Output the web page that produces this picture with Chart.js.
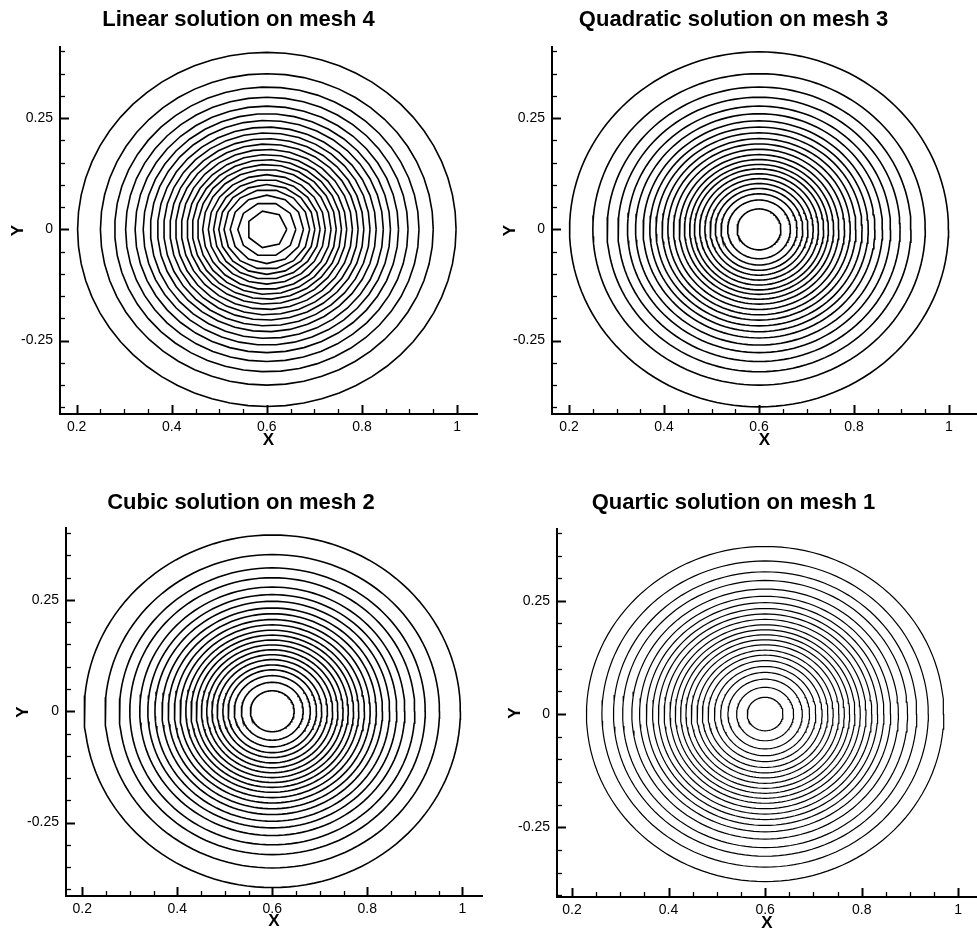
<!DOCTYPE html>
<html>
<head>
<meta charset="utf-8">
<title>Contour solutions</title>
<script src="https://cdn.jsdelivr.net/npm/chart.js@4.4.1/dist/chart.umd.min.js"></script>
<style>
  html, body { margin: 0; padding: 0; background: #fff; overflow: hidden; }
  #page { position: relative; width: 977px; height: 928px; overflow: hidden; background: #fff; }
  #page canvas { position: absolute; }
</style>
</head>
<body>
<div id="page">
  <canvas id="panel1" width="524" height="464" style="left:0px;top:0px"></canvas>
  <canvas id="panel2" width="543" height="464" style="left:490px;top:0px"></canvas>
  <canvas id="panel3" width="528" height="480" style="left:0px;top:464px"></canvas>
  <canvas id="panel4" width="558" height="480" style="left:490px;top:464px"></canvas>
</div>
<script>
// contour centre and the contour radii (data units)
const centreX = 0.6;
const centreY = 0;

const titles = [
    'Linear solution on mesh 4',
    'Quadratic solution on mesh 3',
    'Cubic solution on mesh 2',
    'Quartic solution on mesh 1'
];

const radiiLinear = [0.398, 0.350, 0.320, 0.297, 0.277, 0.260, 0.245, 0.230, 0.217, 0.204, 0.192, 0.180,
    0.168, 0.157, 0.146, 0.135, 0.123, 0.112, 0.101, 0.090, 0.077, 0.061, 0.042];
const radiiQuadratic = [0.399, 0.350, 0.320, 0.297, 0.277, 0.260, 0.244, 0.230, 0.217, 0.204, 0.192, 0.180,
    0.168, 0.157, 0.146, 0.136, 0.125, 0.114, 0.103, 0.092, 0.080, 0.066, 0.046];
const radiiCubic = [0.396, 0.352, 0.322, 0.300, 0.279, 0.262, 0.247, 0.232, 0.219, 0.206, 0.194, 0.182,
    0.171, 0.160, 0.149, 0.138, 0.127, 0.116, 0.104, 0.093, 0.080, 0.065, 0.046];
const radiiQuartic = [0.370, 0.338, 0.314, 0.295, 0.276, 0.260, 0.246, 0.233, 0.221, 0.209, 0.197, 0.186,
    0.175, 0.164, 0.153, 0.141, 0.130, 0.118, 0.105, 0.092, 0.077, 0.059, 0.037];

// tick positions (minor every 0.05) and the labelled ones
const xTickValues = [0.2, 0.25, 0.3, 0.35, 0.4, 0.45, 0.5, 0.55, 0.6, 0.65, 0.7, 0.75, 0.8, 0.85, 0.9, 0.95, 1];
const xMajorTicks = [0.2, 0.4, 0.6, 0.8, 1];
const yTickValues = [-0.4, -0.35, -0.3, -0.25, -0.2, -0.15, -0.1, -0.05, 0, 0.05, 0.1, 0.15, 0.2, 0.25, 0.3, 0.35, 0.4];
const yMajorTicks = [-0.25, 0, 0.25];

// per-panel layout: axis ranges and pixel fitting
const panels = [
    { id: 'panel1', radii: radiiLinear, coarse: true, lineWidth: 1.6,
      xMin: 0.165, xMax: 1.042, yMin: -0.415, yMax: 0.41,
      yAxisW: 60, xAxisH: 50, padRight: 47, titleTop: 7, titleBottom: 13.6, yTitlePad: 8, xTitlePad: 13 },
    { id: 'panel2', radii: radiiQuadratic, coarse: false, lineWidth: 1.6,
      xMin: 0.164, xMax: 1.059, yMin: -0.415, yMax: 0.41,
      yAxisW: 62, xAxisH: 50, padRight: 56, titleTop: 7, titleBottom: 13.6, yTitlePad: 10, xTitlePad: 13 },
    { id: 'panel3', radii: radiiCubic, coarse: false, lineWidth: 1.6,
      xMin: 0.1657, xMax: 1.0415, yMin: -0.415, yMax: 0.411,
      yAxisW: 66, xAxisH: 48, padRight: 46, titleTop: 25.8, titleBottom: 12.1, yTitlePad: 13, xTitlePad: 12 },
    { id: 'panel4', radii: radiiQuartic, coarse: false, lineWidth: 1.2,
      xMin: 0.169, xMax: 1.0388, yMin: -0.404, yMax: 0.4086,
      yAxisW: 67, xAxisH: 47, padRight: 71, titleTop: 25.8, titleBottom: 12.8, yTitlePad: 15, xTitlePad: 10 }
];

const isMajor = (v, list) => list.some(m => Math.abs(m - v) < 1e-6);

function contourRing(r, segments) {
    const pts = [];
    for (let i = 0; i <= segments; i++) {
        const a = (i / segments) * Math.PI * 2;
        pts.push({ x: centreX + r * Math.cos(a), y: centreY + r * Math.sin(a) });
    }
    return pts;
}

// ticks drawn inward from the axis lines
const innerTicks = {
    id: 'innerTicks',
    afterDraw(chart) {
        const { ctx, chartArea } = chart;
        const xs = chart.scales.x;
        const ys = chart.scales.y;
        ctx.save();
        ctx.strokeStyle = '#000';
        xTickValues.forEach(v => {
            const px = Math.round(xs.getPixelForValue(v)) + 0.5;
            const major = isMajor(v, xMajorTicks);
            ctx.lineWidth = major ? 2 : 1.3;
            ctx.beginPath();
            ctx.moveTo(px, chartArea.bottom);
            ctx.lineTo(px, chartArea.bottom - (major ? 9 : 5));
            ctx.stroke();
        });
        yTickValues.forEach(v => {
            const py = Math.round(ys.getPixelForValue(v)) + 0.5;
            const major = isMajor(v, yMajorTicks);
            ctx.lineWidth = major ? 2 : 1.3;
            ctx.beginPath();
            ctx.moveTo(chartArea.left, py);
            ctx.lineTo(chartArea.left + (major ? 9 : 5), py);
            ctx.stroke();
        });
        ctx.restore();
    }
};

Chart.defaults.font.family = "'Liberation Sans', Arial, sans-serif";
Chart.defaults.color = '#000';

panels.forEach((p, idx) => {
    const datasets = p.radii.map(r => ({
        data: contourRing(r, p.coarse ? Math.max(7, Math.round(r * 160)) : 140),
        showLine: true,
        borderColor: '#000',
        borderWidth: p.lineWidth,
        pointRadius: 0,
        fill: false,
        tension: 0
    }));

    new Chart(document.getElementById(p.id), {
        type: 'scatter',
        data: { datasets: datasets },
        options: {
            responsive: false,
            animation: false,
            events: [],
            layout: { padding: { left: 0, right: p.padRight, top: 0, bottom: 0 } },
            plugins: {
                legend: { display: false },
                tooltip: { enabled: false },
                title: {
                    display: true,
                    text: titles[idx],
                    color: '#000',
                    font: { size: 22, weight: 'bold' },
                    padding: { top: p.titleTop, bottom: p.titleBottom }
                }
            },
            scales: {
                x: {
                    type: 'linear',
                    position: 'bottom',
                    min: p.xMin,
                    max: p.xMax,
                    afterBuildTicks: s => { s.ticks = xTickValues.map(v => ({ value: v })); },
                    afterFit: s => { s.height = p.xAxisH; },
                    grid: { display: false, drawTicks: false },
                    border: { display: true, color: '#000', width: 2 },
                    ticks: {
                        autoSkip: false,
                        maxRotation: 0,
                        padding: 5,
                        font: { size: 14 },
                        callback: v => isMajor(v, xMajorTicks) ? String(Math.round(v * 100) / 100) : ''
                    },
                    title: {
                        display: true,
                        text: 'X',
                        font: { size: 17, weight: 'bold' },
                        padding: { top: 0, bottom: p.xTitlePad }
                    }
                },
                y: {
                    type: 'linear',
                    position: 'left',
                    min: p.yMin,
                    max: p.yMax,
                    afterBuildTicks: s => { s.ticks = yTickValues.map(v => ({ value: v })); },
                    afterFit: s => { s.width = p.yAxisW; },
                    grid: { display: false, drawTicks: false },
                    border: { display: true, color: '#000', width: 2 },
                    ticks: {
                        autoSkip: false,
                        padding: 7,
                        font: { size: 14 },
                        callback: v => isMajor(v, yMajorTicks) ? String(Math.round(v * 100) / 100) : ''
                    },
                    title: {
                        display: true,
                        text: 'Y',
                        font: { size: 17, weight: 'bold' },
                        padding: { top: p.yTitlePad, bottom: 0 }
                    }
                }
            }
        },
        plugins: [innerTicks]
    });
});
</script>
</body>
</html>
